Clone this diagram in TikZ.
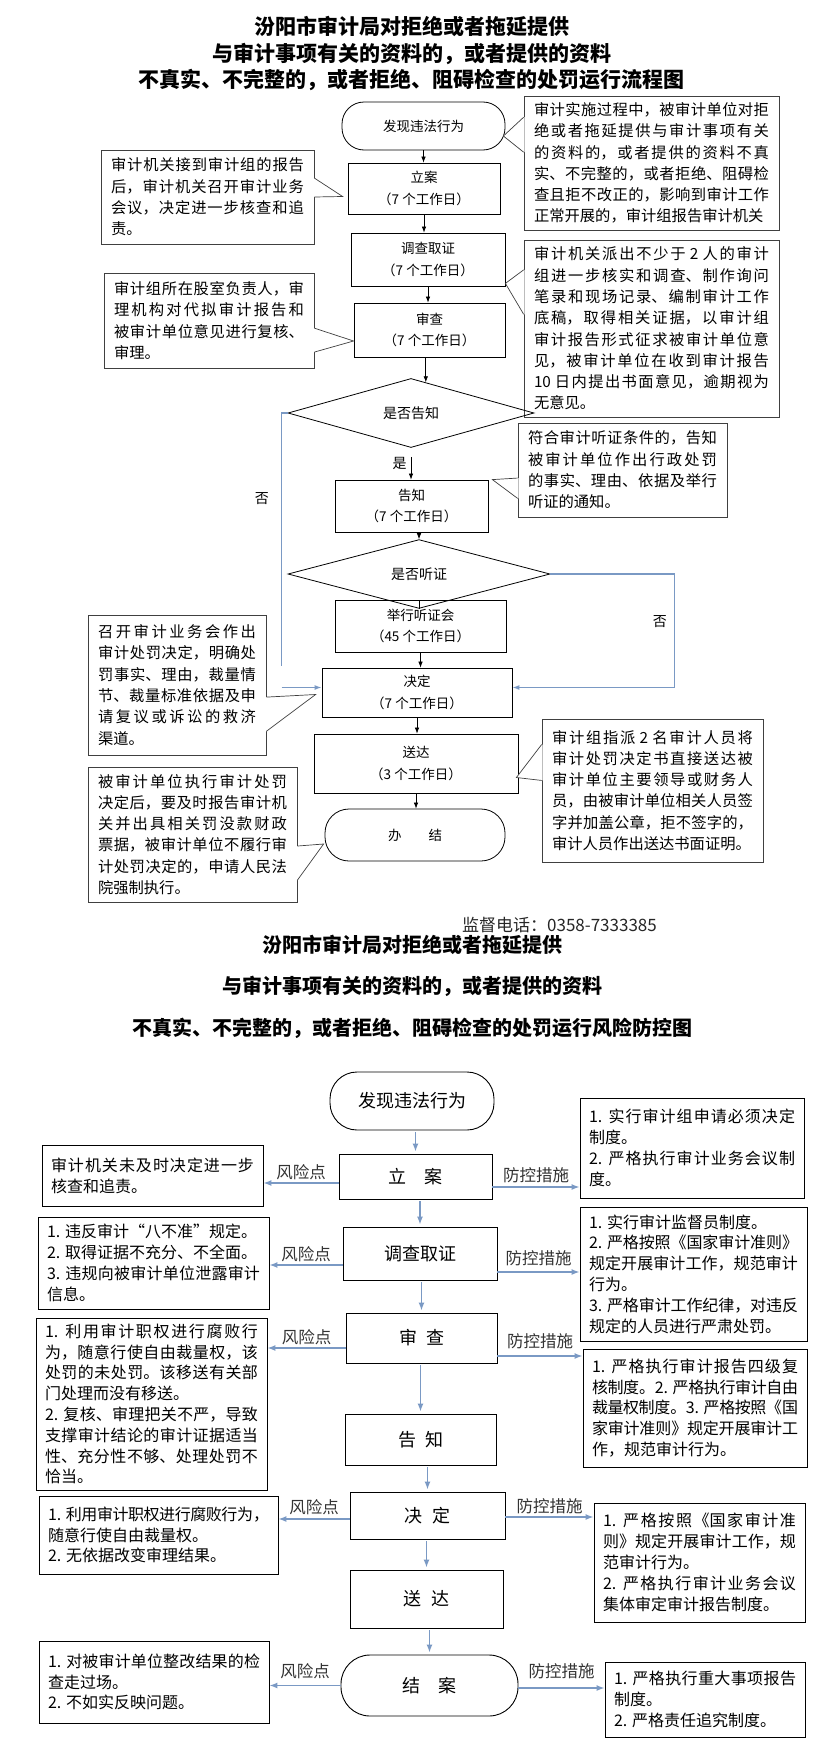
\documentclass[tikz,border=0pt]{standalone}
\usepackage{fontspec}
\setmainfont{Noto Sans CJK SC}
\usetikzlibrary{calc, positioning, shapes.geometric, arrows.meta}
\XeTeXlinebreaklocale "zh"
\XeTeXlinebreakskip=0pt plus 4pt minus 0.8pt
\definecolor{riskblue}{RGB}{122,153,196}
\newcommand{\brk}{\linebreak}
% pointer of a callout: note, side, from, to, tip, inward shift
\newcommand{\notetip}[6]{%
  \coordinate (pa) at ($(#1.north #2)!#3!(#1.south #2)$);
  \coordinate (pb) at ($(#1.north #2)!#4!(#1.south #2)$);
  \fill[white] (pa) -- (#5) -- (pb) -- ([xshift=#6]pb) -- ([xshift=#6]pa) -- cycle;
  \draw[noteline] (pa) -- (#5) -- (pb);
}

\begin{document}
\begin{tikzpicture}[x=1pt, y=-1pt,
  stepbox/.style={draw, line width=0.8pt, inner sep=1pt, align=center,
                  font=\fontsize{13.5}{21.5}\selectfont},
  endbox/.style={stepbox, rounded corners=22pt},
  askbox/.style={draw, diamond, line width=0.8pt, inner sep=0pt,
                 font=\fontsize{14}{16}\selectfont},
  notebox/.style={draw=black!75, fill=white, line width=0.7pt, align=justify,
                  inner xsep=10pt, inner ysep=2pt,
                  font=\fontsize{15.3}{21.3}\selectfont},
  noteline/.style={draw=black!75, line width=0.7pt},
  flow/.style={-{Latex[length=6pt,width=4.5pt]}, line width=0.7pt},
  noroute/.style={draw=riskblue, line width=1.3pt},
  ynlabel/.style={font=\fontsize{14}{16}\selectfont, inner sep=1pt},
  bigstep/.style={draw, line width=0.9pt, inner sep=1pt, align=center,
                  font=\fontsize{18}{22}\selectfont},
  bigend/.style={bigstep, rounded corners=27pt},
  listbox/.style={draw, line width=0.9pt, align=justify, inner xsep=9pt,
                  inner ysep=2pt, font=\fontsize{16}{20.8}\selectfont},
  riskflow/.style={-{Latex[length=8pt,width=6pt]}, draw=riskblue, line width=1.4pt},
  riskword/.style={font=\fontsize{16.5}{18}\selectfont, text=black!80, inner sep=1pt},
  titletext/.style={align=center, font=\bfseries\fontsize{21}{26.5}\selectfont}]

\path[fill=white, use as bounding box] (0,0) rectangle (823,1753);

%% flow chart
\node[titletext] (title) at (411.5,53.5)
  {汾阳市审计局对拒绝或者拖延提供\\与审计事项有关的资料的，或者提供的资料\\不真实、不完整的，或者拒绝、阻碍检查的处罚运行流程图};

% callouts
\node[notebox, text width=235pt, minimum height=134pt] (rc1) at (651.5,163)
  {审计实施过程中，被审计单位对拒\brk 绝或者拖延提供与审计事项有关\brk 的资料的，或者提供的资料不真\brk 实、不完整的，或者拒绝、阻碍检\brk 查且拒不改正的，影响到审计工作\brk 正常开展的，审计组报告审计机关};
\node[notebox, text width=193pt, minimum height=94pt] (lc1) at (207.5,197)
  {审计机关接到审计组的报告\brk 后，审计机关召开审计业务\brk 会议，决定进一步核查和追\brk 责。};
\node[notebox, text width=235pt, minimum height=177pt] (rc2) at (651.5,328.5)
  {审计机关派出不少于 2 人的审计\brk 组进一步核实和调查、制作询问\brk 笔录和现场记录、编制审计工作\brk 底稿，取得相关证据，以审计组\brk 审计报告形式征求被审计单位意\brk 见，被审计单位在收到审计报告\brk 10 日内提出书面意见，逾期视为\brk 无意见。};
\node[notebox, text width=190pt, minimum height=95pt] (lc2) at (209,320.5)
  {审计组所在股室负责人，审\brk 理机构对代拟审计报告和\brk 被审计单位意见进行复核、\brk 审理。};
\node[notebox, text width=189pt, minimum height=94pt] (rc3) at (622.5,470)
  {符合审计听证条件的，告知\brk 被审计单位作出行政处罚\brk 的事实、理由、依据及举行\brk 听证的通知。};
\node[notebox, text width=158pt, minimum height=140pt] (lc3) at (177,685)
  {召开审计业务会作出\brk 审计处罚决定，明确处\brk 罚事实、理由，裁量情\brk 节、裁量标准依据及申\brk 请复议或诉讼的救济\brk 渠道。};
\node[notebox, text width=201pt, minimum height=143pt] (rc4) at (652.5,790.5)
  {审计组指派 2 名审计人员将\brk 审计处罚决定书直接送达被\brk 审计单位主要领导或财务人\brk 员，由被审计单位相关人员签\brk 字并加盖公章，拒不签字的，\brk 审计人员作出送达书面证明。};
\node[notebox, text width=189pt, minimum height=135pt] (lc4) at (192.5,834.5)
  {被审计单位执行审计处罚\brk 决定后，要及时报告审计机\brk 关并出具相关罚没款财政\brk 票据，被审计单位不履行审\brk 计处罚决定的，申请人民法\brk 院强制执行。};

% steps
\node[endbox, minimum width=163pt, minimum height=48pt] (find) at (423.5,126) {发现违法行为};
\node[stepbox, minimum width=152pt, minimum height=51pt] (file) at (424,188.5) {立案\\（7 个工作日）};
\node[stepbox, minimum width=154pt, minimum height=53pt] (probe) at (428,259.5) {调查取证\\（7 个工作日）};
\node[stepbox, minimum width=151pt, minimum height=54pt] (review) at (429.5,330) {审查\\（7 个工作日）};
\node[askbox, minimum width=246pt, minimum height=60pt] (ifnotify) at (411,413) {是否告知};
\node[stepbox, minimum width=153pt, minimum height=52pt] (notify) at (411.5,506) {告知\\（7 个工作日）};
\node[askbox, minimum width=262pt, minimum height=46pt] (ifhear) at (419,574) {是否听证};
\node[stepbox, minimum width=171pt, minimum height=52pt] (hearing) at (420.5,626) {举行听证会\\（45 个工作日）};
\node[stepbox, minimum width=190pt, minimum height=49pt] (decide) at (417,692.5) {决定\\（7 个工作日）};
\node[stepbox, minimum width=204pt, minimum height=59pt] (deliver) at (416,763.5) {送达\\（3 个工作日）};
\node[endbox, rounded corners=24pt, minimum width=180pt, minimum height=52pt] (close) at (415,835)
  {办\hspace{2em}结};

% pointers
\notetip{rc1}{west}{0.16}{0.42}{[xshift=-2pt,yshift=-10pt]find.east}{1pt}
\notetip{lc1}{east}{0.30}{0.50}{[xshift=-5pt,yshift=-8pt]file.west}{-1pt}
\notetip{rc2}{west}{0.17}{0.42}{[yshift=3pt]probe.south east}{1pt}
\notetip{lc2}{east}{0.58}{0.83}{[yshift=-11pt]review.west}{-1pt}
\notetip{rc3}{west}{0.585}{0.80}{[xshift=4pt]notify.north east}{1pt}
\notetip{lc3}{east}{0.586}{0.829}{[xshift=-6pt,yshift=-2pt]decide.west}{-1pt}
\notetip{rc4}{west}{0.18}{0.43}{[xshift=-2pt,yshift=-14pt]deliver.east}{1pt}
\notetip{lc4}{east}{0.585}{0.837}{[xshift=-1pt,yshift=-9pt]close.west}{-1pt}

% arrows
\coordinate (askin) at ($(ifnotify.north)!0.12!(ifnotify.east)$);
\coordinate (nobend) at ($(ifnotify.west)+(-6,0)$);
\draw[flow] (find.south) -- (find.south |- file.north);
\draw[flow] (file.south) -- (file.south |- probe.north);
\draw[flow] (probe.south) -- (probe.south |- review.north);
\draw[flow] (review.south -| askin) -- (askin);
\draw[flow, shorten <=9pt] (ifnotify.south) -- node[ynlabel, left=3pt] {是} (ifnotify.south |- notify.north);
\draw[flow] (notify.south -| ifhear.north) -- (ifhear.north);
\draw[line width=0.7pt] (ifhear.south) -- (ifhear.south |- hearing.north);
\draw[flow] (hearing.south) -- (hearing.south |- decide.north);
\draw[flow] (decide.south) -- (decide.south |- deliver.north);
\draw[flow] (deliver.south) -- (deliver.south |- close.north);
\draw[noroute, -{Latex[length=7pt,width=5pt]}] (ifnotify.west) -- (nobend)
  -- node[ynlabel, pos=0.34, left=11pt] {否} ++(0,253)
  ($(decide.west -| nobend)+(0,-5)$) -- ($(decide.west)+(0,-5)$);
\draw[noroute, -{Latex[length=7pt,width=5pt]}] (ifhear.east) -- ++(124,0)
  |- node[ynlabel, pos=0.21, left=6pt] {否} ($(decide.east)+(0,-5)$);

\node[font=\fontsize{17}{20}\selectfont, text=black!85] (phone) at (559.5,925) {监督电话：0358-7333385};

%% risk chart
\node[titletext, font=\bfseries\fontsize{20}{41.5}\selectfont] (title2) at (412,986.5)
  {汾阳市审计局对拒绝或者拖延提供\\与审计事项有关的资料的，或者提供的资料\\不真实、不完整的，或者拒绝、阻碍检查的处罚运行风险防控图};

\node[bigend, minimum width=164pt, minimum height=58pt] (find2) at (412,1101) {发现违法行为};
\node[bigstep, minimum width=153pt, minimum height=45pt] (file2) at (415.5,1176.5) {立\hspace{1em}案};
\node[bigstep, minimum width=154pt, minimum height=53pt] (probe2) at (420,1253.5) {调查取证};
\node[bigstep, minimum width=151pt, minimum height=50pt] (review2) at (421.5,1338) {审\hspace{0.5em}查};
\node[bigstep, minimum width=151pt, minimum height=51pt] (notify2) at (420.5,1439.5) {告\hspace{0.5em}知};
\node[bigstep, minimum width=155pt, minimum height=47pt] (decide2) at (427.5,1515.5) {决\hspace{0.6em}定};
\node[bigstep, minimum width=153pt, minimum height=58pt] (deliver2) at (426.5,1599) {送\hspace{0.6em}达};
\node[bigend, rounded corners=29pt, minimum width=177pt, minimum height=61pt] (close2) at (429.5,1685.5) {结\hspace{1em}案};

% risk points and controls
\node[listbox, text width=203pt, minimum height=61pt] (risk1) at (152.5,1175.5)
  {审计机关未及时决定进一步\brk 核查和追责。};
\node[listbox, text width=206pt, minimum height=100pt] (fix1) at (692,1148)
  {1. 实行审计组申请必须决定\brk 制度。\par 2. 严格执行审计业务会议制\brk 度。};
\node[listbox, text width=213pt, minimum height=92pt] (risk2) at (153.5,1263)
  {1. 违反审计“八不准”规定。\par 2. 取得证据不充分、不全面。\par 3. 违规向被审计单位泄露审计\brk 信息。};
\node[listbox, text width=209pt, minimum height=134pt] (fix2) at (693.5,1274)
  {1. 实行审计监督员制度。\par 2. 严格按照《国家审计准则》\brk 规定开展审计工作，规范审计\brk 行为。\par 3. 严格审计工作纪律，对违反\brk 规定的人员进行严肃处罚。};
\node[listbox, text width=213pt, minimum height=172pt] (risk3) at (151.5,1404)
  {1. 利用审计职权进行腐败行\brk 为，随意行使自由裁量权，该\brk 处罚的未处罚。该移送有关部\brk 门处理而没有移送。\par 2. 复核、审理把关不严，导致\brk 支撑审计结论的审计证据适当\brk 性、充分性不够、处理处罚不\brk 恰当。};
\node[listbox, text width=206pt, minimum height=118pt] (fix3) at (695,1408)
  {1. 严格执行审计报告四级复\brk 核制度。2. 严格执行审计自由\brk 裁量权制度。3. 严格按照《国\brk 家审计准则》规定开展审计工\brk 作，规范审计行为。};
\node[listbox, text width=221pt, minimum height=78pt] (risk4) at (158.5,1535)
  {1. 利用审计职权进行腐败行为，\brk 随意行使自由裁量权。\par 2. 无依据改变审理结果。};
\node[listbox, text width=193pt, minimum height=119pt] (fix4) at (699.5,1562.5)
  {1. 严格按照《国家审计准\brk 则》规定开展审计工作，规\brk 范审计行为。\par 2. 严格执行审计业务会议\brk 集体审定审计报告制度。};
\node[listbox, text width=212pt, minimum height=82pt] (risk5) at (154,1682)
  {1. 对被审计单位整改结果的检\brk 查走过场。\par 2. 不如实反映问题。};
\node[listbox, text width=182pt, minimum height=75pt] (fix5) at (705,1699.5)
  {1. 严格执行重大事项报告\brk 制度。\par 2. 严格责任追究制度。};

% main line
\draw[riskflow, shorten <=2pt, shorten >=2pt] (find2.south -| file2.north) -- (file2.north);
\draw[riskflow, shorten <=2pt, shorten >=2pt] (file2.south -| probe2.north) -- (probe2.north);
\draw[riskflow, shorten <=2pt, shorten >=2pt] (probe2.south -| review2.north) -- (review2.north);
\draw[riskflow, shorten <=2pt, shorten >=2pt] (review2.south -| notify2.north) -- (notify2.north);
\draw[riskflow, shorten <=2pt, shorten >=2pt] (notify2.south -| decide2.north) -- (decide2.north);
\draw[riskflow, shorten <=2pt, shorten >=2pt] (decide2.south -| deliver2.north) -- (deliver2.north);
\draw[riskflow, shorten <=2pt, shorten >=2pt] (deliver2.south -| close2.north) -- (close2.north);

% side arrows
\draw[riskflow] ($(file2.west)+(0,6.5)$) -- node[riskword, above=1pt] {风险点} ($(file2.west -| risk1.east)+(0,6.5)$);
\draw[riskflow] ($(file2.east)+(0,10.5)$) -- node[riskword, above=2pt] {防控措施} ($(file2.east -| fix1.west)+(0,10.5)$);
\draw[riskflow] ($(probe2.west)+(0,11.5)$) -- node[riskword, above=1pt] {风险点} ($(probe2.west -| risk2.east)+(0,11.5)$);
\draw[riskflow] ($(probe2.east)+(0,18.5)$) -- node[riskword, above=4pt] {防控措施} ($(probe2.east -| fix2.west)+(0,18.5)$);
\draw[riskflow] ($(review2.west)+(0,10)$) -- node[riskword, above=1pt] {风险点} ($(review2.west -| risk3.east)+(0,10)$);
\draw[riskflow] ($(review2.east)+(0,18)$) -- node[riskword, above=5pt] {防控措施} ($(review2.east -| fix3.west)+(0,18)$);
\draw[riskflow] ($(decide2.west)+(0,3.5)$) -- node[riskword, above=2pt] {风险点} ($(decide2.west -| risk4.east)+(0,3.5)$);
\draw[riskflow] ($(decide2.east)+(0,1.5)$) -- node[riskword, above=1pt] {防控措施} ($(decide2.east -| fix4.west)+(0,1.5)$);
\draw[riskflow] (close2.west) -- node[riskword, above=5pt] {风险点} (close2.west -| risk5.east);
\draw[riskflow] ($(close2.east)+(0,2.5)$) -- node[riskword, above=7pt] {防控措施} ($(close2.east -| fix5.west)+(0,2.5)$);
\end{tikzpicture}
\end{document}
